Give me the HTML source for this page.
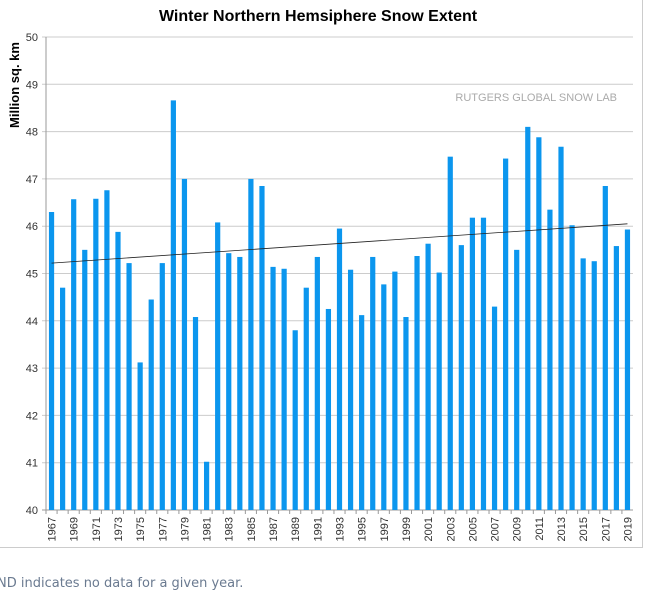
<!DOCTYPE html>
<html><head><meta charset="utf-8"><style>
body{margin:0;background:#fff;width:648px;height:594px;overflow:hidden;font-family:"Liberation Sans",sans-serif}
#frame{position:absolute;left:-2px;top:-2px;width:645px;height:550px;border:1px solid #ccc;box-sizing:border-box}
#note{position:absolute;left:-3px;top:576px;font-family:"DejaVu Sans","Liberation Sans",sans-serif;font-size:13px;color:#6a7a90}
</style></head><body>
<div id="frame"></div>
<svg id="chart" width="648" height="594" style="position:absolute;left:0;top:0"></svg>
<div id="note">ND indicates no data for a given year.</div>
<script>
const years=[];for(let y=1967;y<=2019;y++)years.push(y);
const values=[46.3,44.7,46.57,45.5,46.58,46.76,45.88,45.22,43.12,44.45,45.22,48.66,47.0,44.08,41.02,46.08,45.43,45.35,47.0,46.85,45.14,45.1,43.8,44.7,45.35,44.25,45.95,45.08,44.12,45.35,44.77,45.04,44.08,45.37,45.63,45.02,47.47,45.6,46.18,46.18,44.3,47.43,45.5,48.1,47.88,46.35,47.68,46.02,45.32,45.26,46.85,45.58,45.93];
const yTicks=[40,41,42,43,44,45,46,47,48,49,50];
const trendStart=45.22, trendEnd=46.05;
const NS='http://www.w3.org/2000/svg';
const svg=document.getElementById('chart');
const L=46,R=633,T=37,B=510,yMin=40,yMax=50;
const band=(R-L)/years.length;
const yS=v=>B-(v-yMin)/(yMax-yMin)*(B-T);
const xC=i=>L+band*(i+0.5);
function mk(t,a){const e=document.createElementNS(NS,t);for(const k in a)e.setAttribute(k,a[k]);svg.appendChild(e);return e;}
yTicks.forEach(v=>{
 const g=mk('line',{x1:L-4,x2:R,y1:yS(v),y2:yS(v),stroke:v===40?'#999':'#ccc','stroke-width':1});
 
 
 const t=mk('text',{x:L-8,y:yS(v)+4,'text-anchor':'end','font-size':11,fill:'#333','font-family':'Liberation Sans, sans-serif'});
 t.textContent=v;
 
 
});
const ax=mk('line',{x1:L,x2:L,y1:T,y2:B,stroke:'#999'});


values.forEach((v,i)=>{
 const r=mk('rect',{x:xC(i)-2.6,y:yS(v),width:5.2,height:B-yS(v),fill:'#0b96ee'});
 
 
});
years.forEach((y,i)=>{
 const tk=mk('line',{x1:L+band*i,x2:L+band*i,y1:B,y2:B+4,stroke:'#999'});
 
 
 if(i%2===0){
  const t=mk('text',{x:0,y:0,'text-anchor':'end','font-size':11,fill:'#333','font-family':'Liberation Sans, sans-serif',transform:`translate(${xC(i)+4},${B+7}) rotate(-90)`});
  t.textContent=y;
  
  
 }
});
const tl=mk('line',{x1:xC(0),x2:xC(years.length-1),y1:yS(trendStart),y2:yS(trendEnd),stroke:'#222','stroke-width':0.8});


const ti=mk('text',{x:318,y:21,'text-anchor':'middle','font-size':16,'font-weight':'bold',fill:'#000','font-family':'Liberation Sans, sans-serif'});
ti.textContent='Winter Northern Hemsiphere Snow Extent';


const yt=mk('text',{x:0,y:0,'text-anchor':'middle','font-size':13,'font-weight':'bold',fill:'#000','font-family':'Liberation Sans, sans-serif',transform:'translate(19,85) rotate(-90)'});
yt.textContent='Million sq. km';


const wm=mk('text',{x:617,y:101,'text-anchor':'end','font-size':11,fill:'#aaa','font-family':'Liberation Sans, sans-serif'});
wm.textContent='RUTGERS GLOBAL SNOW LAB';


</script>
</body></html>
